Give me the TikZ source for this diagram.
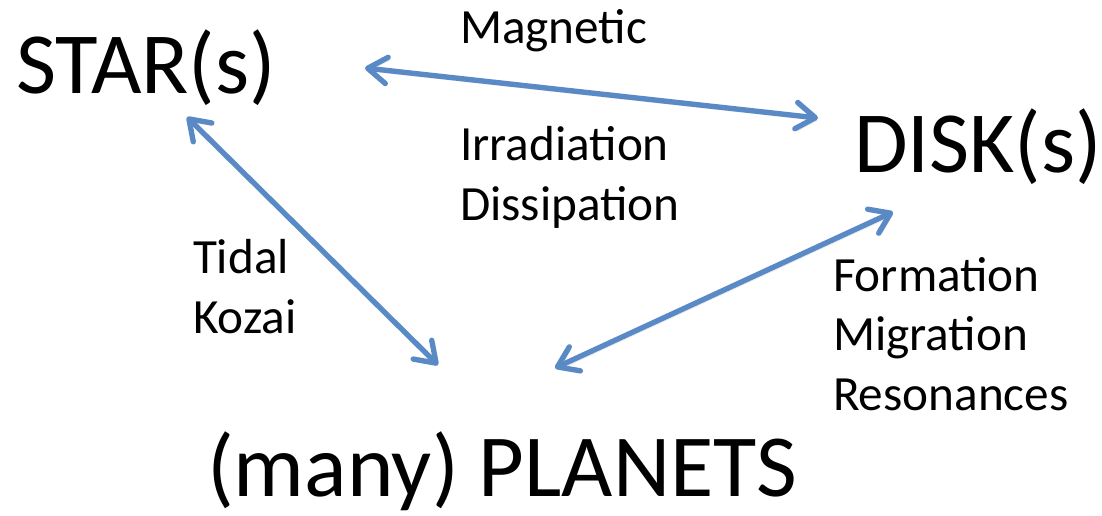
\documentclass[tikz,border=0pt]{standalone}
\usepackage{fontspec}
\setmainfont{Carlito}
\usepackage{xcolor}
\usetikzlibrary{arrows.meta,positioning,calc}
\definecolor{linkblue}{HTML}{5A8AC6}
\definecolor{shade}{HTML}{C8C8C8}

\begin{document}
\begin{tikzpicture}[x=0.025cm,y=-0.025cm,
  every node/.style={inner sep=0pt,outer sep=0pt,anchor=base west},
  body/.style={font=\fontsize{62}{62}\selectfont},
  tag/.style={font=\fontsize{35}{42}\selectfont,align=left},
  link/.style={draw=linkblue,line width=3.8pt,line cap=round,
    {Straight Barb[length=4.8mm,width=6.6mm,line cap=round,line join=round]}-{Straight Barb[length=4.8mm,width=6.6mm,line cap=round,line join=round]},
    preaction={draw=shade,opacity=.5,transform canvas={shift={(1.2pt,-2pt)}}}}]
\useasboundingbox (0,0) rectangle (1102,515);
\node[body] (star)    at (16,93)   {STAR(s)};
\node[body] (disk)    at (854,172) {DISK(s)};
\node[body,font=\fontsize{63}{63}\selectfont] (planets) at (207,496) {(many) PLANETS};
\node[tag]  (magnetic) at (460,43)  {Magnetic};
\node[tag]  (irrad)    at (460,220) {Irradiation\\Dissipation};
\node[tag]  (tidal)    at (193,333) {Tidal\\Kozai};
\node[tag]  (formation) at (833,410) {Formation\\Migration\\Resonances};
% connector ends
\coordinate (s1) at (365,68);
\coordinate (d1) at (818,118);
\coordinate (s2) at (187,117);
\coordinate (p1) at (438,365);
\coordinate (d2) at (893,212);
\coordinate (p2) at (555,368);
\draw[link] (s1) -- (d1);
\draw[link] (s2) -- (p1);
\draw[link] (d2) -- (p2);
\end{tikzpicture}
\end{document}
